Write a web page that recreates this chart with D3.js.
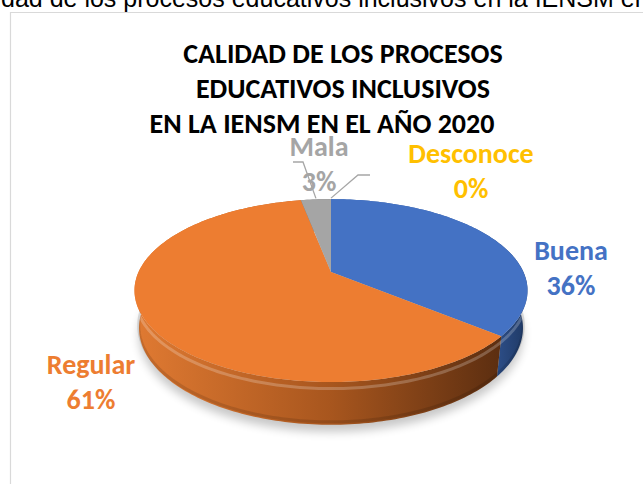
<!DOCTYPE html>
<html>
<head>
<meta charset="utf-8">
<script src="https://cdn.jsdelivr.net/npm/d3@7"></script>
<style>
  html, body { margin: 0; padding: 0; background: #fff; overflow: hidden; }
  svg { display: block; }
</style>
</head>
<body>
<svg id="chart" width="643" height="484"></svg>
<script>
// data
const categories = ["Buena", "Regular", "Mala", "Desconoce"];
const values = [36, 61, 3, 0];
const colors = ["#4472C4", "#ED7D31", "#A5A5A5", "#FFC000"];
const titleLines = ["CALIDAD DE LOS PROCESOS", "EDUCATIVOS INCLUSIVOS", "EN LA IENSM EN EL AÑO 2020"];
const captionText = "Calidad de los procesos educativos inclusivos en la IENSM en el año 2020";

const width = 643, height = 484;
const svg = d3.select("#chart");
const defs = svg.append("defs");
const labelFont = "Carlito, Calibri, Lato, sans-serif";
const captionFont = "Liberation Sans, Arial, sans-serif";

// caption text cut off at the top of the page
const caption = svg.append("text")
    .attr("y", 7)
    .attr("font-family", captionFont)
    .attr("font-size", 25)
    .attr("fill", "#000")
    .text(captionText);
// shift so that "dad de los..." starts at the left edge
const prefix = svg.append("text").attr("font-family", captionFont)
    .attr("font-size", 25).text("Cali");
const prefixW = prefix.node().getComputedTextLength();
prefix.remove();
caption.attr("x", -prefixW + 1);

// chart area border (only top and left show)
svg.append("path")
    .attr("d", "M10.5,490V12.5H650")
    .attr("fill", "none")
    .attr("stroke", "#D9D9D9")
    .attr("stroke-width", 1.2);

// title
svg.append("g")
    .selectAll("text")
    .data(titleLines)
    .enter()
    .append("text")
    .attr("x", (d, i) => i === 2 ? 322 : 343)
    .attr("y", (d, i) => 63 + i * 35)
    .attr("text-anchor", "middle")
    .attr("font-family", labelFont)
    .attr("font-weight", "bold")
    .attr("font-size", 28)
    .attr("fill", "#000")
    .text(d => d);

// simple perspective camera for the 3-D pie
const cam = { cx: 331, cy: 272, F: 844, s: 0.4556, R: 0.228, h: 0.05 };
cam.c = Math.sqrt(1 - cam.s * cam.s);

// angle a (0 = back, clockwise seen from above), r radius fraction, y height
const proj = (a, r, yUp) => {
    const X = cam.R * r * Math.sin(a);
    const Z = -cam.R * r * Math.cos(a);
    const dotU = yUp * cam.c - Z * cam.s;
    const dotW = yUp * cam.s + Z * cam.c;
    const depth = 1 - dotW;
    return [cam.cx + cam.F * X / depth, cam.cy - cam.F * dotU / depth];
};

const arcPoints = (a0, a1, yUp) => {
    const n = Math.max(2, Math.ceil((a1 - a0) / 0.02));
    return d3.range(n + 1).map(i => proj(a0 + (a1 - a0) * i / n, 1, yUp));
};

const slices = d3.pie().sort(null).value(d => d.value)(
    categories.map((c, i) => ({ name: c, value: values[i], color: colors[i] }))
);
const total = d3.sum(values);
const line = d3.line();

// side gradients
const sideStops = {
    "#ED7D31": [[135, "#E07A32"], [330, "#A8561E"], [505, "#5A2D10"]],
    "#4472C4": [[470, "#3A62A8"], [530, "#1D3660"]],
    "#A5A5A5": [[135, "#8C8C8C"], [528, "#555555"]],
    "#FFC000": [[135, "#D9A300"], [528, "#8A6800"]]
};
Object.entries(sideStops).forEach(([col, stops], i) => {
    const g = defs.append("linearGradient")
        .attr("id", "side" + i)
        .attr("gradientUnits", "userSpaceOnUse")
        .attr("x1", stops[0][0]).attr("x2", stops[stops.length - 1][0])
        .attr("y1", 0).attr("y2", 0);
    const x0 = stops[0][0], x1 = stops[stops.length - 1][0];
    stops.forEach(([x, c]) => g.append("stop").attr("offset", (x - x0) / (x1 - x0)).attr("stop-color", c));
    sideStops[col].id = "side" + i;
});

// soft shadow under the pie
const blur = defs.append("filter").attr("id", "shadow")
    .attr("x", "-20%").attr("y", "-20%").attr("width", "140%").attr("height", "140%");
blur.append("feGaussianBlur").attr("stdDeviation", 5);

svg.append("path")
    .attr("d", line(arcPoints(0, 2 * Math.PI, -cam.h)) + "Z")
    .attr("transform", "translate(0,7)")
    .attr("fill", "#000")
    .attr("opacity", 0.22)
    .attr("filter", "url(#shadow)");

// outer walls
const walls = svg.append("g");
slices.filter(d => d.value > 0).forEach(d => {
    const top = arcPoints(d.startAngle, d.endAngle, 0);
    const bottom = arcPoints(d.startAngle, d.endAngle, -cam.h).reverse();
    walls.append("path")
        .attr("d", line(top.concat(bottom)) + "Z")
        .attr("fill", "url(#" + sideStops[d.data.color].id + ")");
});

// bevel highlight and darker lower edge along the front rim
svg.append("path")
    .attr("d", line(arcPoints(Math.PI * 0.45, Math.PI * 1.55, -cam.h * 0.15)))
    .attr("fill", "none")
    .attr("stroke", "#fff")
    .attr("stroke-opacity", 0.22)
    .attr("stroke-width", 3);
svg.append("path")
    .attr("d", line(arcPoints(Math.PI * 0.45, Math.PI * 1.55, -cam.h * 0.93)))
    .attr("fill", "none")
    .attr("stroke", "#000")
    .attr("stroke-opacity", 0.12)
    .attr("stroke-width", 3);

// top faces
svg.append("g")
    .selectAll("path")
    .data(slices.filter(d => d.value > 0))
    .enter()
    .append("path")
    .attr("d", d => line([proj(0, 0, 0)].concat(arcPoints(d.startAngle, d.endAngle, 0))) + "Z")
    .attr("fill", d => d.data.color);

// leader lines for the small slices
const leaderEnds = { "Mala": [[293, 162], [303, 162]], "Desconoce": [[370, 175], [358, 175]] };
slices.filter(d => leaderEnds[d.data.name]).forEach(d => {
    const mid = (d.startAngle + d.endAngle) / 2;
    const p = proj(mid, 1, 0);
    svg.append("path")
        .attr("d", line(leaderEnds[d.data.name].concat([[p[0], p[1] - 1]])))
        .attr("fill", "none")
        .attr("stroke", "#A6A6A6")
        .attr("stroke-width", 1.3);
});

// data labels
const labelPos = {
    "Buena": [571, 260],
    "Regular": [91, 374],
    "Mala": [319, 156],
    "Desconoce": [471, 163]
};
const pct = d3.format(".0%");
const labels = svg.append("g")
    .selectAll("text")
    .data(slices)
    .enter()
    .append("text")
    .attr("text-anchor", "middle")
    .attr("font-family", labelFont)
    .attr("font-weight", "bold")
    .attr("font-size", 28)
    .attr("fill", d => d.data.color);
labels.append("tspan")
    .attr("x", d => labelPos[d.data.name][0])
    .attr("y", d => labelPos[d.data.name][1])
    .text(d => d.data.name);
labels.append("tspan")
    .attr("x", d => labelPos[d.data.name][0])
    .attr("y", d => labelPos[d.data.name][1] + 35)
    .text(d => pct(d.value / total));
</script>
</body>
</html>
